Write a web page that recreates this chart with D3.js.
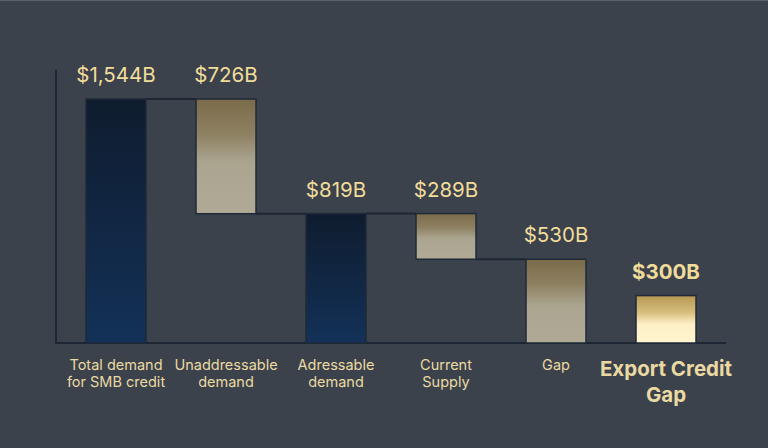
<!DOCTYPE html>
<html>
<head>
<meta charset="utf-8">
<script src="https://cdn.jsdelivr.net/npm/d3@7"></script>
<style>
  html, body { margin: 0; padding: 0; background: #3b424c; }
  svg { display: block; }
  text { font-family: Inter, "Noto Sans", sans-serif; }
</style>
</head>
<body>
<div class="chart"></div>
<script>
// data
const categories = ['total', 'unaddressable', 'addressable', 'supply', 'gap', 'export'];
const tickLabels = [
    ['Total demand', 'for SMB credit'],
    ['Unaddressable', 'demand'],
    ['Adressable', 'demand'],
    ['Current', 'Supply'],
    ['Gap'],
    ['Export Credit', 'Gap']
];
const values = [1544, 726, 819, 289, 530, 300];
const kinds = ['total', 'decrease', 'total', 'decrease', 'total', 'total'];
const valueLabels = ['$1,544B', '$726B', '$819B', '$289B', '$530B', '$300B'];
const fills = ['navy', 'gold', 'navy', 'gold', 'gold', 'bright'];

const width = 768;
const height = 448;
const baseY = 343;

const svg = d3.select('.chart')
              .append('svg')
              .attr('width', width)
              .attr('height', height);

svg.append('rect').attr('width', width).attr('height', height).attr('fill', '#3b424c');
svg.append('rect').attr('width', width).attr('height', 1).attr('fill', '#59606a');

// gradients
const defs = svg.append('defs');
const grads = {
    navy: [[0, '#0f1c2e'], [1, '#133158']],
    gold: [[0, '#7a6b4a'], [0.3, '#8d8061'], [0.55, '#aba590'], [1, '#b0a996']],
    bright: [[0, '#b79853'], [0.35, '#d6bd7c'], [0.6, '#fdefc6'], [1, '#fff5cf']]
};
Object.entries(grads).forEach(([id, stops]) => {
    const g = defs.append('linearGradient')
                  .attr('id', 'g-' + id)
                  .attr('x1', 0).attr('y1', 0).attr('x2', 0).attr('y2', 1);
    stops.forEach(s => g.append('stop').attr('offset', s[0]).attr('stop-color', s[1]));
});

// scales
const x = d3.scaleBand()
            .domain(categories)
            .range([61, 721])
            .paddingInner(50 / 110)
            .paddingOuter(25 / 110);
const y = d3.scaleLinear()
            .domain([0, 1544])
            .range([baseY, 99]);

// bar extents (waterfall)
let running = 0;
const bars = values.map((v, i) => {
    let lo, hi;
    if (kinds[i] === 'total') { lo = 0; hi = v; running = v; }
    else { hi = running; lo = running - v; running = lo; }
    return { key: categories[i], lo, hi, level: running, i };
});

// axes lines
svg.append('line')
   .attr('x1', 56).attr('x2', 56)
   .attr('y1', 70).attr('y2', baseY)
   .attr('stroke', '#1d2633').attr('stroke-width', 2);
svg.append('line')
   .attr('x1', 55).attr('x2', 726)
   .attr('y1', baseY).attr('y2', baseY)
   .attr('stroke', '#1d2633').attr('stroke-width', 2);

// connectors between the bridge steps
svg.selectAll('.connector')
   .data(bars.slice(0, 4))
   .join('line')
   .attr('class', 'connector')
   .attr('x1', d => x(d.key) + x.bandwidth())
   .attr('x2', d => x(categories[d.i + 1]))
   .attr('y1', d => y(d.level))
   .attr('y2', d => y(d.level))
   .attr('stroke', '#1d2633')
   .attr('stroke-width', 2);

// bars
svg.selectAll('.bar')
   .data(bars)
   .join('rect')
   .attr('class', 'bar')
   .attr('x', d => x(d.key))
   .attr('y', d => y(d.hi))
   .attr('width', x.bandwidth())
   .attr('height', d => y(d.lo) - y(d.hi))
   .attr('fill', d => `url(#g-${fills[d.i]})`)
   .attr('stroke', '#1f2a38')
   .attr('stroke-width', 1.5);

// value labels
svg.selectAll('.value')
   .data(bars)
   .join('text')
   .attr('class', 'value')
   .attr('x', d => x(d.key) + x.bandwidth() / 2)
   .attr('y', d => y(d.hi) - 17)
   .attr('text-anchor', 'middle')
   .attr('fill', '#f1dc9a')
   .attr('font-size', 20.5)
   .attr('font-weight', d => d.i === 5 ? 700 : 400)
   .text(d => valueLabels[d.i]);

// category labels
const ticks = svg.selectAll('.tick')
   .data(categories)
   .join('text')
   .attr('class', 'tick')
   .attr('text-anchor', 'middle')
   .attr('fill', '#ead9a2')
   .attr('font-size', (d, i) => i === 5 ? 20.5 : 14.5)
   .attr('font-weight', (d, i) => i === 5 ? 700 : 400)
   .attr('transform', d => `translate(${x(d) + x.bandwidth() / 2}, 0)`);

ticks.selectAll('tspan')
     .data((d, i) => tickLabels[i].map(t => ({ t, big: i === 5 })))
     .join('tspan')
     .attr('x', 0)
     .attr('y', (d, j) => d.big ? 376 + j * 26 : 370 + j * 17)
     .text(d => d.t);
</script>
</body>
</html>
